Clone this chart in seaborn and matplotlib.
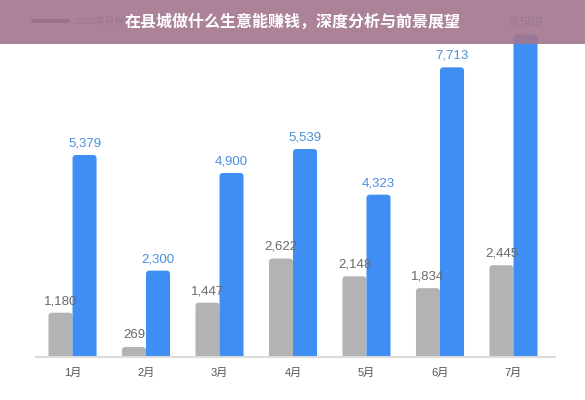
import matplotlib
matplotlib.use("Agg")
import matplotlib.pyplot as plt
from matplotlib.patches import Rectangle, FancyBboxPatch
from matplotlib.lines import Line2D
import seaborn as sns
import pandas as pd

months = ["1月", "2月", "3月", "4月", "5月", "6月", "7月"]
sales_2019 = [1180, 269, 1447, 2622, 2148, 1834, 2445]
sales_2020 = [5379, 2300, 4900, 5539, 4323, 7713, 8589]
series_names = ["2019", "2020"]
title_text = "在县城做什么生意能赚钱，深度分析与前景展望"
legend_text = "2020年月份"

sns.set_style("white")
plt.rcParams['font.family'] = ['Liberation Sans', 'Noto Sans CJK SC', 'DejaVu Sans']

df = pd.DataFrame({
    "month": months * 2,
    "sales": sales_2019 + sales_2020,
    "year": [series_names[0]] * len(months) + [series_names[1]] * len(months),
})

gray = "#b3b3b3"
blue = "#3f8ef3"

fig = plt.figure(figsize=(5.85, 4.0), dpi=100)
ax = fig.add_axes([36 / 585, 43 / 400, 519 / 585, 357 / 400])
sns.barplot(data=df, x="month", y="sales", hue="year", order=months,
            palette=[gray, blue], width=0.654, saturation=1, ax=ax, legend=False)

ax.set_xlim(-0.497, 6.565)
ax.set_ylim(0, 9507)

# value labels
for cont, col in zip(ax.containers, ["#6a6a6a", "#4a8fdc"]):
    ax.bar_label(cont, labels=[f"{v:,.0f}" for v in cont.datavalues],
                 padding=4, fontsize=9.5, color=col, clip_on=False)

# rounded bar tops
x_per_px = (6.565 + 0.497) / 519
y_per_px = 9507 / 357
r = 3.5 * x_per_px
for p in list(ax.patches):
    x, y = p.get_x(), p.get_y()
    w, h = p.get_width(), p.get_height()
    fb = FancyBboxPatch((x, y - 200), w, h + 200,
                        boxstyle=f"round,pad=0,rounding_size={r}",
                        mutation_aspect=y_per_px / x_per_px,
                        facecolor=p.get_facecolor(), edgecolor="none",
                        clip_on=True)
    p.remove()
    ax.add_patch(fb)

for s in ["top", "right", "left"]:
    ax.spines[s].set_visible(False)
ax.spines["bottom"].set_color("#dcdcdc")
ax.spines["bottom"].set_linewidth(1.5)
ax.set_yticks([])
ax.set_xlabel("")
ax.set_ylabel("")
ax.tick_params(axis="x", length=0, pad=8, labelsize=8, labelcolor="#555555")

# legend partly hidden under banner
fig.lines.append(Line2D([33 / 585, 68 / 585], [1 - 21 / 400, 1 - 21 / 400],
                        color="#555555", lw=3, transform=fig.transFigure))
fig.text(74 / 585, 1 - 21 / 400, legend_text, fontsize=6.8, color="#666666",
         va="center", ha="left")

# title banner
fig.patches.append(Rectangle((0, 1 - 44 / 400), 1, 44 / 400, transform=fig.transFigure,
                             facecolor="#a3758d", alpha=0.9, edgecolor="none", zorder=5))
fig.text(0.5, 1 - 22 / 400, title_text, fontsize=11.5, fontweight="bold",
         color="white", ha="center", va="center", zorder=6,
         family=['Noto Sans CJK SC', 'DejaVu Sans'])

fig.savefig("out.png", dpi=100)
